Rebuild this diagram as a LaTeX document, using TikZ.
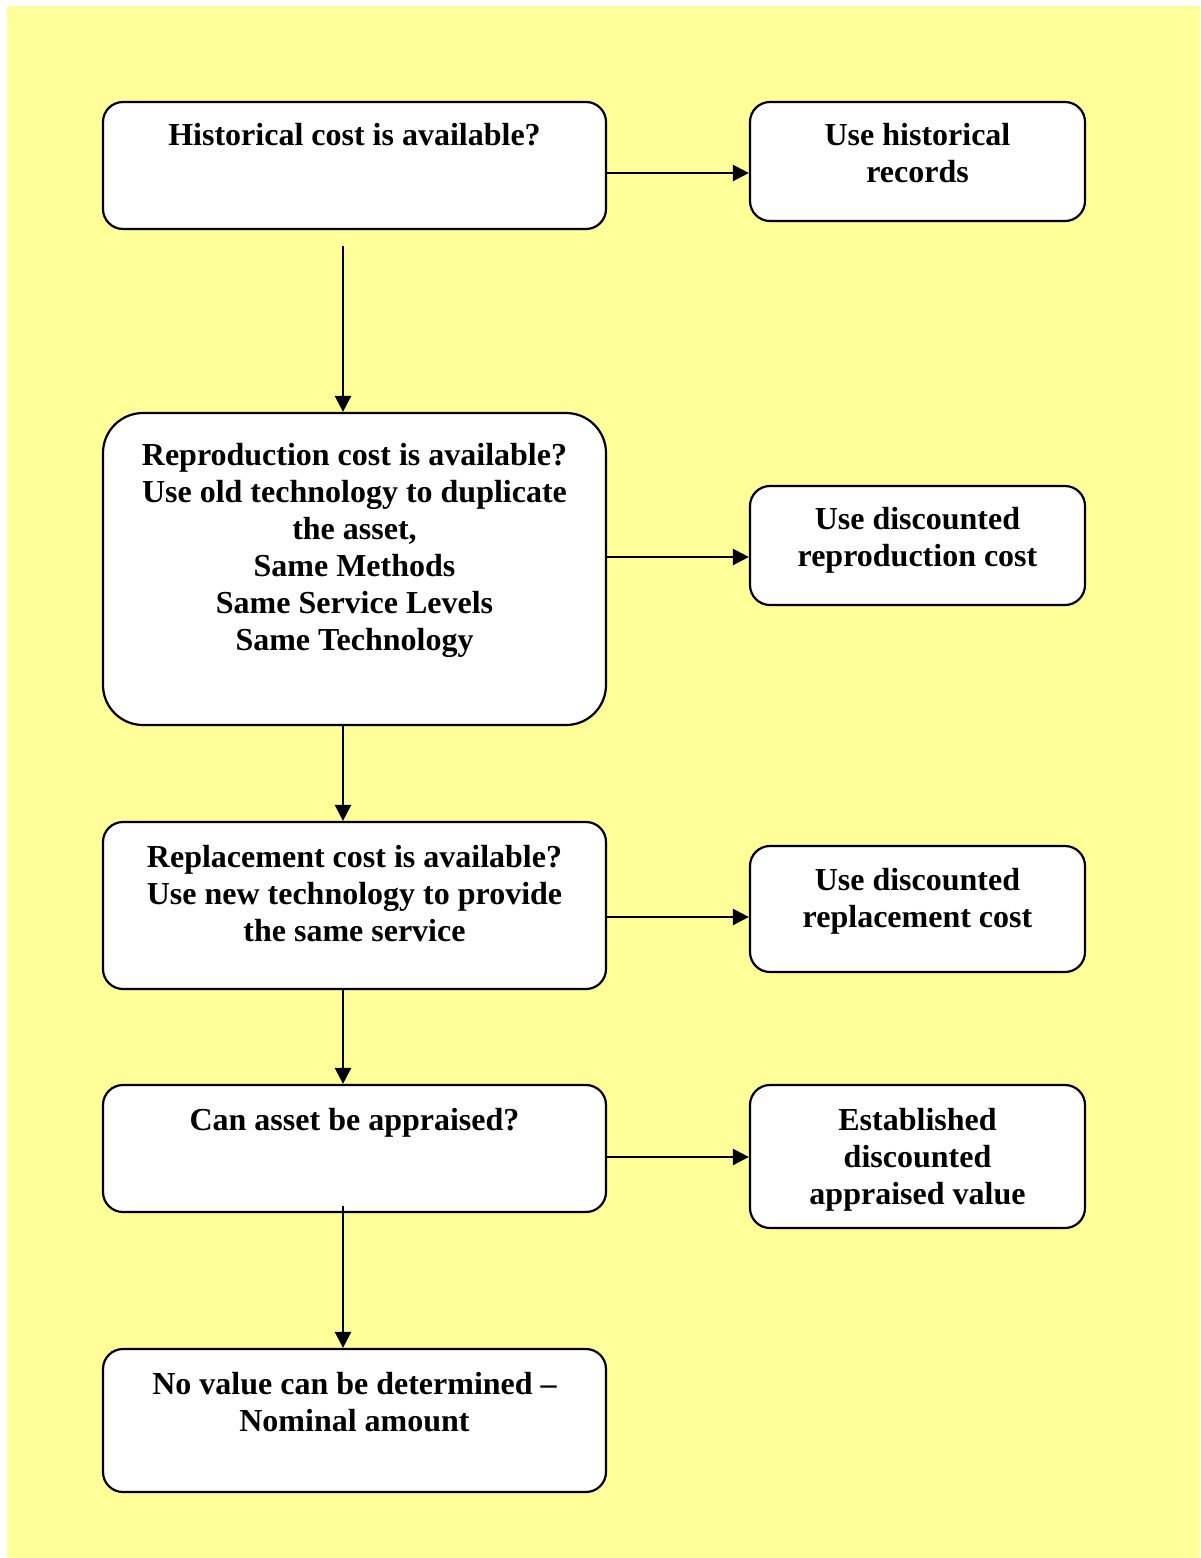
\documentclass[tikz,border=0pt]{standalone}
\usepackage{fontspec}
\setmainfont{Liberation Serif}
\usetikzlibrary{arrows.meta}
\definecolor{paleyellow}{HTML}{FFFF99}
\begin{document}
\begin{tikzpicture}
  [x=1pt,y=-1pt,
   box/.style={draw, line width=2.2pt, fill=white, rounded corners=20pt, inner sep=0pt},
   txt/.style={anchor=north, align=center, inner sep=0pt, font=\fontsize{32}{37}\selectfont\bfseries},
   flow/.style={-{Triangle[length=16pt,width=16pt]}, line width=2.4pt}]

 \useasboundingbox (0,0) rectangle (1200,1558);
 \fill[paleyellow] (7,6) rectangle (1200,1558);

 % left column: questions
 \node[box, minimum width=503pt, minimum height=127pt] (hist) at (354.5,165.5) {};
 \node[box, minimum width=503pt, minimum height=312pt, rounded corners=40pt] (repro) at (354.5,569) {};
 \node[box, minimum width=503pt, minimum height=167pt] (repl) at (354.5,905.5) {};
 \node[box, minimum width=503pt, minimum height=127pt] (appr) at (354.5,1148.5) {};
 \node[box, minimum width=503pt, minimum height=143pt] (none) at (354.5,1420.5) {};

 % right column: outcomes
 \node[box, minimum width=335pt, minimum height=119pt] (histR) at (917.5,161.5) {};
 \node[box, minimum width=335pt, minimum height=119pt] (reproR) at (917.5,545.5) {};
 \node[box, minimum width=335pt, minimum height=126pt] (replR) at (917.5,909) {};
 \node[box, minimum width=335pt, minimum height=143pt] (apprR) at (917.5,1156.5) {};

 % texts
 \node[txt] (histT) at (354.5,123) {Historical cost is available?};
 \node[txt] (reproT) at (354.5,443) {Reproduction cost is available?\\Use old technology to duplicate\\the asset,\\Same Methods\\Same Service Levels\\Same Technology};
 \node[txt] (replT) at (354.5,845) {Replacement cost is available?\\Use new technology to provide\\the same service};
 \node[txt] (apprT) at (354.5,1108) {Can asset be appraised?};
 \node[txt] (noneT) at (354.5,1372) {No value can be determined –\\Nominal amount};
 \node[txt] (histRT) at (917.5,123) {Use historical\\records};
 \node[txt] (reproRT) at (917.5,507) {Use discounted\\reproduction cost};
 \node[txt] (replRT) at (917.5,868) {Use discounted\\replacement cost};
 \node[txt] (apprRT) at (917.5,1108) {Established\\discounted\\appraised value};

 % yes branches
 \draw[flow] (hist.east |- 0,173) -- (histR.west |- 0,173);
 \draw[flow] (repro.east |- 0,557) -- (reproR.west |- 0,557);
 \draw[flow] (repl.east |- 0,917) -- (replR.west |- 0,917);
 \draw[flow] (appr.east |- 0,1157) -- (apprR.west |- 0,1157);

 % no branches
 \draw[flow] ([shift={(-11.5,16)}]hist.south) -- ([xshift=-11.5pt]repro.north);
 \draw[flow] ([xshift=-11.5pt]repro.south) -- ([xshift=-11.5pt]repl.north);
 \draw[flow] ([xshift=-11.5pt]repl.south) -- ([xshift=-11.5pt]appr.north);
 \draw[flow] ([shift={(-11.5,-7)}]appr.south) -- ([xshift=-11.5pt]none.north);

\end{tikzpicture}
\end{document}
